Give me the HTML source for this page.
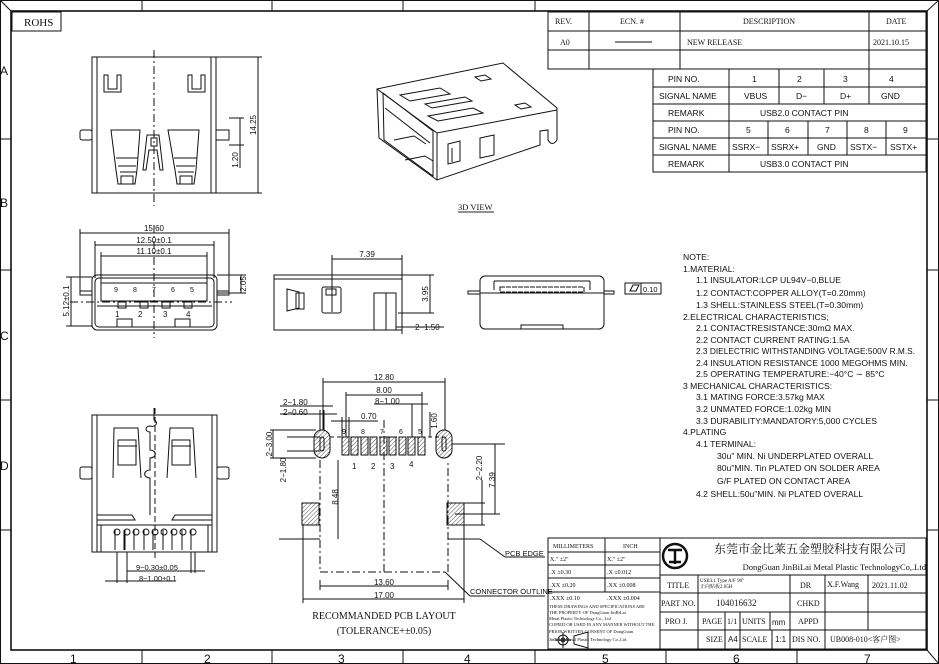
<!DOCTYPE html>
<html><head><meta charset="utf-8"><style>
html,body{margin:0;padding:0;background:#fff}
svg{display:block}
text{font-family:"Liberation Sans","Noto Sans CJK SC",sans-serif;fill:#111}
.s text, text.s{font-family:"Liberation Serif","Noto Serif CJK SC",serif}
</style></head><body>
<svg width="939" height="664" viewBox="0 0 939 664" xmlns="http://www.w3.org/2000/svg">
<defs>
<pattern id="h" width="3" height="3" patternUnits="userSpaceOnUse" patternTransform="rotate(45)"><line x1="0" y1="0" x2="0" y2="3" stroke="#222" stroke-width="0.8"/></pattern>
</defs>
<g fill="none" stroke="#111" stroke-width="1">
<!-- frame -->
<rect x="0.5" y="0.5" width="938" height="663"/>
<rect x="11" y="11" width="916" height="639" stroke-width="1.6"/>
<line x1="0" y1="0" x2="11" y2="11"/><line x1="939" y1="0" x2="927" y2="11"/><line x1="939" y1="664" x2="927" y2="650"/>
<line x1="142" y1="0" x2="142" y2="11"/><line x1="272" y1="0" x2="272" y2="11"/><line x1="403" y1="0" x2="403" y2="11"/><line x1="535" y1="0" x2="535" y2="11"/>
<line x1="142" y1="650" x2="142" y2="664"/><line x1="272" y1="650" x2="272" y2="664"/><line x1="403" y1="650" x2="403" y2="664"/><line x1="535" y1="650" x2="535" y2="664"/><line x1="666" y1="650" x2="666" y2="664"/><line x1="797" y1="650" x2="797" y2="664"/>
<line x1="0" y1="139" x2="11" y2="139"/><line x1="0" y1="270" x2="11" y2="270"/><line x1="0" y1="400" x2="11" y2="400"/><line x1="0" y1="530" x2="11" y2="530"/>
<line x1="927" y1="139" x2="939" y2="139"/><line x1="927" y1="270" x2="939" y2="270"/><line x1="927" y1="400" x2="939" y2="400"/><line x1="927" y1="530" x2="939" y2="530"/>
<rect x="12" y="12" width="49" height="19"/>
<!-- rev table -->
<rect x="548" y="12" width="378" height="57"/>
<line x1="548" y1="31" x2="926" y2="31"/><line x1="548" y1="50" x2="926" y2="50"/>
<line x1="589" y1="12" x2="589" y2="69"/><line x1="680" y1="12" x2="680" y2="69"/><line x1="869" y1="12" x2="869" y2="69"/>
<line x1="615" y1="42" x2="652" y2="42"/>
<!-- pin table -->
<rect x="653" y="69" width="273" height="103"/>
<line x1="653" y1="87" x2="926" y2="87"/><line x1="653" y1="104" x2="926" y2="104"/><line x1="653" y1="121" x2="926" y2="121"/><line x1="653" y1="138" x2="926" y2="138"/><line x1="653" y1="155" x2="926" y2="155"/>
<line x1="729" y1="69" x2="729" y2="172"/>
<line x1="779" y1="69" x2="779" y2="104"/><line x1="824" y1="69" x2="824" y2="104"/><line x1="869" y1="69" x2="869" y2="104"/>
<line x1="768" y1="121" x2="768" y2="155"/><line x1="808" y1="121" x2="808" y2="155"/><line x1="847" y1="121" x2="847" y2="155"/><line x1="886" y1="121" x2="886" y2="155"/>
<!-- title block -->
<rect x="548" y="538" width="378" height="111"/>
<line x1="660" y1="538" x2="660" y2="649"/><line x1="605" y1="538" x2="605" y2="592"/>
<line x1="548" y1="552" x2="660" y2="552"/><line x1="548" y1="565" x2="660" y2="565"/><line x1="548" y1="578" x2="660" y2="578"/><line x1="548" y1="592" x2="660" y2="592"/>
<line x1="660" y1="575" x2="926" y2="575"/><line x1="660" y1="593" x2="926" y2="593"/><line x1="660" y1="612" x2="926" y2="612"/><line x1="660" y1="630" x2="926" y2="630"/>
<line x1="698" y1="575" x2="698" y2="649"/><line x1="790" y1="575" x2="790" y2="649"/><line x1="825" y1="575" x2="825" y2="649"/><line x1="868" y1="575" x2="868" y2="630"/>
<line x1="725" y1="612" x2="725" y2="649"/><line x1="740" y1="612" x2="740" y2="649"/><line x1="770" y1="612" x2="770" y2="630"/><line x1="772" y1="630" x2="772" y2="649"/>
<circle cx="675" cy="556" r="12" stroke-width="2.5"/><path d="M668 550 h14 M675 550 v14 M669 562 h12" stroke-width="2.5"/>
<circle cx="563" cy="640" r="5"/><circle cx="563" cy="640" r="2"/><line x1="555" y1="640" x2="571" y2="640"/><line x1="563" y1="632" x2="563" y2="648"/><path d="M574 636 L588 632 L588 648 L574 644 Z"/>

<!-- top view -->
<rect x="92" y="57" width="124" height="136"/><line x1="97" y1="57" x2="97" y2="193"/><line x1="211" y1="57" x2="211" y2="193"/>
<line x1="154" y1="50" x2="154" y2="206" stroke-dasharray="8,3,2,3"/>
<rect x="80" y="130" width="12" height="10" rx="2"/><rect x="216" y="130" width="13" height="10"/>
<path d="M104 92 V75 h4 v14 h9 V75 h4 v17 Z"/><path d="M188 92 V75 h4 v14 h9 V75 h4 v17 Z"/>
<path d="M111 130 L140 130 L137 170 L135 184 L118 184 L116 170 Z"/><path d="M116 158 h22 M118 166 h18 M120 172 h16 M121 184 V176 h12 v8"/>
<path d="M168 130 L199 130 L196 170 L194 184 L177 184 L175 170 Z"/><path d="M174 158 h23 M176 166 h19 M178 172 h16 M180 184 V176 h12 v8"/>
<path d="M147 135 h12 l4 35 h-3 l-3 -20 h-8 l-3 20 h-3 Z"/><rect x="151" y="138" width="6" height="8"/>
<line x1="216" y1="57" x2="262" y2="57"/><line x1="216" y1="193" x2="262" y2="193"/><line x1="258" y1="57" x2="258" y2="193"/>
<line x1="229" y1="118" x2="244" y2="118"/><line x1="229" y1="145" x2="244" y2="145"/><line x1="240" y1="118" x2="240" y2="168"/>

<!-- front view -->
<rect x="92" y="275" width="125" height="55" rx="5"/><rect x="95" y="278" width="119" height="49" rx="4"/>
<path d="M101 283 h106 v18 h-106 Z"/><path d="M97 306 h115"/>
<rect x="80" y="291" width="12" height="4"/><rect x="217" y="291" width="12" height="4"/>
<rect x="117" y="319" width="15" height="8"/><rect x="175" y="319" width="15" height="8"/>
<rect x="118" y="302" width="8" height="6"/><rect x="140" y="302" width="8" height="6"/><rect x="162" y="302" width="8" height="6"/><rect x="184" y="302" width="8" height="6"/>
<line x1="154" y1="225" x2="154" y2="338" stroke-dasharray="8,3,2,3"/>
<line x1="70" y1="302" x2="232" y2="302" stroke-dasharray="8,3,2,3"/>
<line x1="80" y1="229" x2="80" y2="291"/><line x1="229" y1="229" x2="229" y2="291"/><line x1="80" y1="233" x2="229" y2="233"/>
<line x1="95" y1="241" x2="95" y2="278"/><line x1="214" y1="241" x2="214" y2="278"/><line x1="95" y1="245" x2="214" y2="245"/>
<line x1="101" y1="252" x2="101" y2="283"/><line x1="207" y1="252" x2="207" y2="283"/><line x1="101" y1="256" x2="207" y2="256"/>
<line x1="217" y1="275" x2="246" y2="275"/><line x1="217" y1="293" x2="246" y2="293"/><line x1="241" y1="275" x2="241" y2="293"/>
<line x1="66" y1="277" x2="92" y2="277"/><line x1="66" y1="326" x2="92" y2="326"/><line x1="71" y1="277" x2="71" y2="326"/>

<!-- side view -->
<rect x="274" y="275" width="128" height="55"/><line x1="274" y1="279" x2="402" y2="279"/>
<path d="M374 330 V293 h12 v37"/><path d="M386 293 h10 v37"/>
<path d="M287 289 l12 3 v16 l-12 3 Z"/><rect x="296" y="293" width="8" height="16"/>
<rect x="322" y="287" width="19" height="26" rx="2"/><rect x="326" y="289" width="10" height="6"/>
<line x1="332" y1="255" x2="332" y2="312"/><line x1="402" y1="255" x2="402" y2="334"/><line x1="332" y1="259" x2="402" y2="259"/>
<line x1="402" y1="275" x2="434" y2="275"/><line x1="398" y1="313" x2="434" y2="313"/><line x1="430" y1="275" x2="430" y2="313"/>
<line x1="396" y1="327" x2="444" y2="327"/>

<!-- rear view -->
<rect x="480" y="276" width="124" height="53" rx="5"/><line x1="494" y1="281" x2="590" y2="281"/><line x1="494" y1="281" x2="494" y2="290"/><line x1="590" y1="281" x2="590" y2="290"/>
<line x1="480" y1="293" x2="604" y2="293"/>
<rect x="468" y="291" width="12" height="3"/><rect x="604" y="291" width="10" height="3"/>
<path d="M500 287 h84 v5 h-84 Z" stroke-dasharray="5,1"/>
<rect x="521" y="325" width="42" height="4"/>
<rect x="625" y="283" width="16" height="11"/><rect x="641" y="283" width="20" height="11"/><path d="M630 291 l3 -6 h6 l-3 6 Z"/>

<!-- 3D view -->
<path d="M377 89 L503 63 L557 108 L557 140 Q552 147 548 140 L548 130 L540 131 L540 145 L437 180 L379 138 Z"/>
<path d="M377 89 L437 133 L557 110"/>
<line x1="437" y1="133" x2="437" y2="180"/>
<path d="M383 93 L433 131 L433 176 L384 140 Z"/>
<path d="M385 108 L430 143"/>
<path d="M400 95 l40 -7 l10 6 l-40 7 Z M425 104 l40 -7 l7 4 l-40 7 Z M428 116 l45 -8 l10 5 l-45 8 Z"/>
<path d="M475 77 l10 -2 l6 4 l-10 2 Z M515 105 l10 -2 l6 4 l-10 2 Z"/>
<path d="M448 144 l12 -3 v20 l-12 3 Z M452 148 v14"/>
<path d="M480 138 l14 -3 v20 l-14 3 Z"/>
<path d="M394 140 l20 -4 l12 8 M405 160 l20 -4 l8 5"/>

<!-- bottom view -->
<rect x="92" y="415" width="125" height="137"/><line x1="97" y1="415" x2="97" y2="552"/><line x1="212" y1="415" x2="212" y2="552"/>
<rect x="80" y="467" width="12" height="12" rx="2"/><rect x="217" y="467" width="12" height="12" rx="2"/>
<path d="M113 478 L114 428 L138 428 L141 478"/><path d="M118 440 h18 v25 h-18 Z M118 446 h19"/>
<path d="M167 478 L170 428 L193 428 L196 478"/><path d="M172 440 h18 v25 h-18 Z M172 446 h19"/>
<path d="M154 408 V420 a4 3 0 0 1 -4 6 a4 3 0 0 0 0 6 V450 a4 3 0 0 1 0 8 V470 a4 3 0 0 0 0 8 V515" />
<line x1="155" y1="408" x2="155" y2="560" stroke-dasharray="6,3"/>
<path d="M97 515 h35 l3 5 h-38 Z M175 515 h37 v5 h-40 Z"/>
<line x1="97" y1="525" x2="212" y2="525"/><line x1="101" y1="525" x2="101" y2="552"/><line x1="208" y1="525" x2="208" y2="552"/>
<g>
<path d="M115 530 v20 M124 530 v20 M125 530 v20 M134 530 v20 M144 530 v20 M153 530 v20 M163 530 v20 M172 530 v20 M182 530 v20 M191 530 v20"/>
<circle cx="117" cy="532" r="3"/><circle cx="127" cy="532" r="3"/><circle cx="136" cy="532" r="3"/><circle cx="146" cy="532" r="3"/><circle cx="155" cy="532" r="3"/><circle cx="164" cy="532" r="3"/><circle cx="174" cy="532" r="3"/><circle cx="183" cy="532" r="3"/><circle cx="193" cy="532" r="3"/>
</g>
<line x1="117" y1="552" x2="117" y2="583"/><line x1="127" y1="552" x2="127" y2="583"/><line x1="191" y1="552" x2="191" y2="573"/><line x1="195" y1="552" x2="195" y2="573"/>
<line x1="105" y1="581" x2="176" y2="581"/><line x1="127" y1="571" x2="205" y2="571"/>

<!-- pcb layout -->
<rect x="314" y="430" width="16" height="28" rx="8" fill="url(#h)"/><rect x="320" y="437" width="4" height="14" rx="2"/>
<rect x="436" y="430" width="16" height="28" rx="8" fill="url(#h)"/><rect x="442" y="437" width="4" height="14" rx="2"/>
<g fill="url(#h)">
<rect x="342" y="437" width="7" height="18"/><rect x="351" y="437" width="7" height="18"/><rect x="361" y="437" width="7" height="18"/><rect x="370" y="437" width="7" height="18"/><rect x="380" y="437" width="7" height="18"/><rect x="389" y="437" width="7" height="18"/><rect x="399" y="437" width="7" height="18"/><rect x="408" y="437" width="7" height="18"/><rect x="418" y="437" width="7" height="18"/>
<rect x="302" y="503" width="17" height="22"/><rect x="447" y="503" width="17" height="22"/>
</g>
<path d="M320 460 V572 H448 V460" stroke-dasharray="8,3,2,3"/>
<line x1="384" y1="420" x2="384" y2="575" stroke-dasharray="8,3,2,3"/>
<line x1="330" y1="437" x2="445" y2="437" stroke-dasharray="4,3"/>
<line x1="279" y1="539" x2="320" y2="539"/><line x1="448" y1="539" x2="480" y2="539"/><line x1="480" y1="539" x2="505" y2="557"/><line x1="505" y1="557" x2="545" y2="557"/>
<line x1="445" y1="572" x2="470" y2="596"/><line x1="470" y1="596" x2="545" y2="596"/>
<line x1="323" y1="378" x2="323" y2="430"/><line x1="445" y1="378" x2="445" y2="430"/><line x1="323" y1="382" x2="445" y2="382"/>
<line x1="346" y1="392" x2="346" y2="437"/><line x1="422" y1="392" x2="422" y2="437"/><line x1="346" y1="395" x2="422" y2="395"/>
<line x1="412" y1="404" x2="412" y2="437"/><line x1="374" y1="404" x2="428" y2="404"/>
<line x1="314" y1="406" x2="333" y2="406"/><line x1="280" y1="406" x2="314" y2="406"/>
<line x1="280" y1="414" x2="337" y2="414"/><line x1="320" y1="410" x2="320" y2="430"/><line x1="324" y1="410" x2="324" y2="430"/>
<line x1="331" y1="421" x2="378" y2="421"/><line x1="342" y1="417" x2="342" y2="437"/><line x1="349" y1="417" x2="349" y2="437"/>
<line x1="430" y1="412" x2="430" y2="437"/>
<line x1="270" y1="430" x2="316" y2="430"/><line x1="270" y1="458" x2="316" y2="458"/><line x1="273" y1="430" x2="273" y2="458"/>
<line x1="287" y1="437" x2="320" y2="437"/><line x1="287" y1="451" x2="320" y2="451"/>
<line x1="338" y1="460" x2="338" y2="539"/>
<line x1="452" y1="444" x2="505" y2="444"/><line x1="495" y1="444" x2="495" y2="514"/><line x1="455" y1="514" x2="500" y2="514"/>
<line x1="464" y1="503" x2="485" y2="503"/><line x1="464" y1="525" x2="485" y2="525"/><line x1="482" y1="480" x2="482" y2="525"/>
<line x1="320" y1="580" x2="320" y2="590"/><line x1="448" y1="580" x2="448" y2="590"/><line x1="320" y1="586" x2="448" y2="586"/>
<line x1="303" y1="525" x2="303" y2="603"/><line x1="464" y1="525" x2="464" y2="603"/><line x1="303" y1="599" x2="464" y2="599"/>
</g>

<!-- texts -->
<g class="s">
<text x="24" y="26" font-size="11">ROHS</text>
<text x="555" y="24" font-size="8">REV.</text><text x="620" y="24" font-size="8">ECN. #</text><text x="743" y="24" font-size="8">DESCRIPTION</text><text x="886" y="24" font-size="8">DATE</text>
<text x="560" y="45" font-size="8">A0</text><text x="687" y="45" font-size="8">NEW RELEASE</text><text x="873" y="45" font-size="8">2021.10.15</text>
<text x="458" y="210" font-size="8.5" fill="#223">3D VIEW</text>
<text x="384" y="619" font-size="10" text-anchor="middle" fill="#223">RECOMMANDED PCB LAYOUT</text>
<text x="384" y="634" font-size="10" text-anchor="middle" fill="#223">(TOLERANCE+±0.05)</text>
<text x="553" y="548" font-size="6">MILLIMETERS</text><text x="623" y="548" font-size="6">INCH</text>
<text x="550" y="561" font-size="6">X."    ±2"</text><text x="607" y="561" font-size="6">X."    ±2"</text>
<text x="550" y="574" font-size="6">.X    ±0.30</text><text x="607" y="574" font-size="6">.X    ±0.012</text>
<text x="550" y="587" font-size="6">.XX   ±0.20</text><text x="607" y="587" font-size="6">.XX   ±0.008</text>
<text x="550" y="600" font-size="6">.XXX  ±0.10</text><text x="607" y="600" font-size="6">.XXX  ±0.004</text>
<text x="549" y="608" font-size="4.5">THESE DRAWINGS AND SPECIFICATIONS ARE</text>
<text x="549" y="614" font-size="4.5">THE PROPERTY OF DongGuan JinBiLai</text>
<text x="549" y="620" font-size="4.5">Metal Plastic Technology Co., Ltd</text>
<text x="549" y="626" font-size="4.5">COPIED OR USED IN ANY MANNER WITHOUT THE</text>
<text x="549" y="633" font-size="4.5">PRIOR WRITTEN CONSENT OF DongGuan</text>
<text x="549" y="641" font-size="4.5">JinBiLai Metal Plastic Technology Co.,Ltd</text>
<text x="906" y="553" font-size="12" text-anchor="end">东莞市金比莱五金塑胶科技有限公司</text>
<text x="926" y="570" font-size="8.5" text-anchor="end">DongGuan JinBiLai Metal Plastic TechnologyCo,.Ltd</text>
<text x="667" y="588" font-size="8">TITLE</text><text x="700" y="582" font-size="5">USB3.1 Type A/F 90"</text><text x="700" y="588" font-size="5">正向贴板2.05H</text>
<text x="800" y="588" font-size="8">DR</text><text x="827" y="587" font-size="8">X.F.Wang</text><text x="872" y="588" font-size="8">2021.11.02</text>
<text x="661" y="606" font-size="8">PART NO.</text><text x="716" y="606" font-size="9">104016632</text><text x="797" y="606" font-size="8">CHKD</text>
<text x="665" y="624" font-size="8">PRO J.</text><text x="702" y="624" font-size="8">PAGE</text><text x="727" y="624" font-size="8">1/1</text><text x="742" y="624" font-size="8">UNITS</text><text x="798" y="624" font-size="8">APPD</text>
<text x="706" y="642" font-size="8">SIZE</text><text x="742" y="642" font-size="8">SCALE</text><text x="792" y="642" font-size="8">DIS NO.</text><text x="830" y="642" font-size="8">UB008-010&lt;客户图&gt;</text>
</g>
<line x1="458" y1="212" x2="494" y2="212" stroke="#223"/>
<text x="772" y="625" font-size="8">mm</text><text x="728" y="642" font-size="8">A4</text><text x="775" y="642" font-size="8">1:1</text>
<g font-size="13">
<text x="0" y="75" font-size="12">A</text><text x="0" y="207" font-size="12">B</text><text x="0" y="340" font-size="12">C</text><text x="0" y="470" font-size="12">D</text>
<text x="70" y="663" font-size="12">1</text><text x="204" y="663" font-size="12">2</text><text x="338" y="663" font-size="12">3</text><text x="464" y="663" font-size="12">4</text><text x="602" y="663" font-size="12">5</text><text x="733" y="663" font-size="12">6</text><text x="864" y="663" font-size="12">7</text>
</g>
<g font-size="8.5">
<text x="668" y="82">PIN NO.</text><text x="752" y="82">1</text><text x="797" y="82">2</text><text x="843" y="82">3</text><text x="889" y="82">4</text>
<text x="659" y="99">SIGNAL NAME</text><text x="744" y="99">VBUS</text><text x="796" y="99">D−</text><text x="840" y="99">D+</text><text x="881" y="99">GND</text>
<text x="668" y="116">REMARK</text><text x="760" y="116">USB2.0 CONTACT PIN</text>
<text x="668" y="133">PIN NO.</text><text x="746" y="133">5</text><text x="785" y="133">6</text><text x="825" y="133">7</text><text x="864" y="133">8</text><text x="903" y="133">9</text>
<text x="732" y="150">SSRX−</text><text x="771" y="150">SSRX+</text><text x="817" y="150">GND</text><text x="850" y="150">SSTX−</text><text x="890" y="150">SSTX+</text>
<text x="659" y="150">SIGNAL NAME</text>
<text x="668" y="167">REMARK</text><text x="760" y="167">USB3.0 CONTACT PIN</text>
</g>
<g font-size="8.6">
<text x="683" y="260">NOTE:</text>
<text x="683" y="272">1.MATERIAL:</text>
<text x="696" y="283">1.1  INSULATOR:LCP  UL94V−0,BLUE</text>
<text x="696" y="296">1.2  CONTACT:COPPER  ALLOY(T=0.20mm)</text>
<text x="696" y="308">1.3  SHELL:STAINLESS  STEEL(T=0.30mm)</text>
<text x="683" y="320">2.ELECTRICAL  CHARACTERISTICS;</text>
<text x="696" y="331">2.1  CONTACTRESISTANCE:30mΩ  MAX.</text>
<text x="696" y="343">2.2  CONTACT  CURRENT  RATING:1.5A</text>
<text x="696" y="354" textLength="219" lengthAdjust="spacingAndGlyphs">2.3  DIELECTRIC  WITHSTANDING  VOLTAGE:500V  R.M.S.</text>
<text x="696" y="366">2.4  INSULATION  RESISTANCE  1000  MEGOHMS  MIN.</text>
<text x="696" y="377">2.5  OPERATING  TEMPERATURE:−40°C  ∼  85°C</text>
<text x="683" y="389">3  MECHANICAL  CHARACTERISTICS:</text>
<text x="696" y="400">3.1  MATING  FORCE:3.57kg  MAX</text>
<text x="696" y="412">3.2  UNMATED  FORCE:1.02kg  MIN</text>
<text x="696" y="424">3.3  DURABILITY:MANDATORY:5,000  CYCLES</text>
<text x="683" y="435">4.PLATING</text>
<text x="696" y="447">4.1  TERMINAL:</text>
<text x="717" y="459">30u"  MIN.  Ni  UNDERPLATED  OVERALL</text>
<text x="717" y="471">80u"MIN.  Tin  PLATED  ON  SOLDER  AREA</text>
<text x="717" y="484">G/F  PLATED  ON  CONTACT  AREA</text>
<text x="696" y="497">4.2  SHELL:50u"MIN.  Ni  PLATED  OVERALL</text>
</g>
<g font-size="8">
<text x="154" y="231" text-anchor="middle">15.60</text><text x="154" y="243" text-anchor="middle">12.50±0.1</text><text x="154" y="254" text-anchor="middle">11.10±0.1</text>
<text transform="translate(246,284) rotate(-90)" text-anchor="middle">2.05</text>
<text transform="translate(69,301) rotate(-90)" text-anchor="middle">5.12±0.1</text>
<text transform="translate(256,125) rotate(-90)" text-anchor="middle">14.25</text>
<text transform="translate(238,160) rotate(-90)" text-anchor="middle">1.20</text>
<text x="367" y="257" text-anchor="middle">7.39</text>
<text transform="translate(428,294) rotate(-90)" text-anchor="middle">3.95</text>
<text x="415" y="330">2−1.50</text>
<text x="643" y="292" font-size="7.5">0.10</text>
<text x="114" y="292" font-size="7">9</text><text x="133" y="292" font-size="7">8</text><text x="152" y="292" font-size="7">7</text><text x="171" y="292" font-size="7">6</text><text x="190" y="292" font-size="7">5</text>
<text x="115" y="317">1</text><text x="138" y="317">2</text><text x="163" y="317">3</text><text x="186" y="317">4</text>
<text x="136" y="570" font-size="7.5">9−0.30±0.05</text><text x="139" y="581" font-size="7.5">8−1.00±0.1</text>
<text x="384" y="380" text-anchor="middle">12.80</text><text x="384" y="393" text-anchor="middle">8.00</text><text x="375" y="404">8−1.00</text><text x="361" y="419">0.70</text>
<text x="283" y="405">2−1.80</text><text x="283" y="415">2−0.60</text>
<text transform="translate(437,421) rotate(-90)" text-anchor="middle">1.60</text>
<text transform="translate(272,444) rotate(-90)" text-anchor="middle">2−3.00</text>
<text transform="translate(286,470) rotate(-90)" text-anchor="middle">2−1.80</text>
<text transform="translate(338,497) rotate(-90)" text-anchor="middle">8.48</text>
<text transform="translate(482,468) rotate(-90)" text-anchor="middle">2−2.20</text>
<text transform="translate(495,480) rotate(-90)" text-anchor="middle">7.39</text>
<text x="384" y="585" text-anchor="middle">13.60</text><text x="384" y="598" text-anchor="middle">17.00</text>
<text x="505" y="556" font-size="7.5">PCB EDGE</text><text x="470" y="594" font-size="7.5">CONNECTOR OUTLINE</text>
<text x="342" y="434" font-size="7">9</text><text x="361" y="434" font-size="7">8</text><text x="380" y="434" font-size="7">7</text><text x="399" y="434" font-size="7">6</text><text x="418" y="434" font-size="7">5</text>
<text x="352" y="469">1</text><text x="371" y="469">2</text><text x="390" y="469">3</text><text x="409" y="467">4</text>
</g>
</svg>
</body></html>
